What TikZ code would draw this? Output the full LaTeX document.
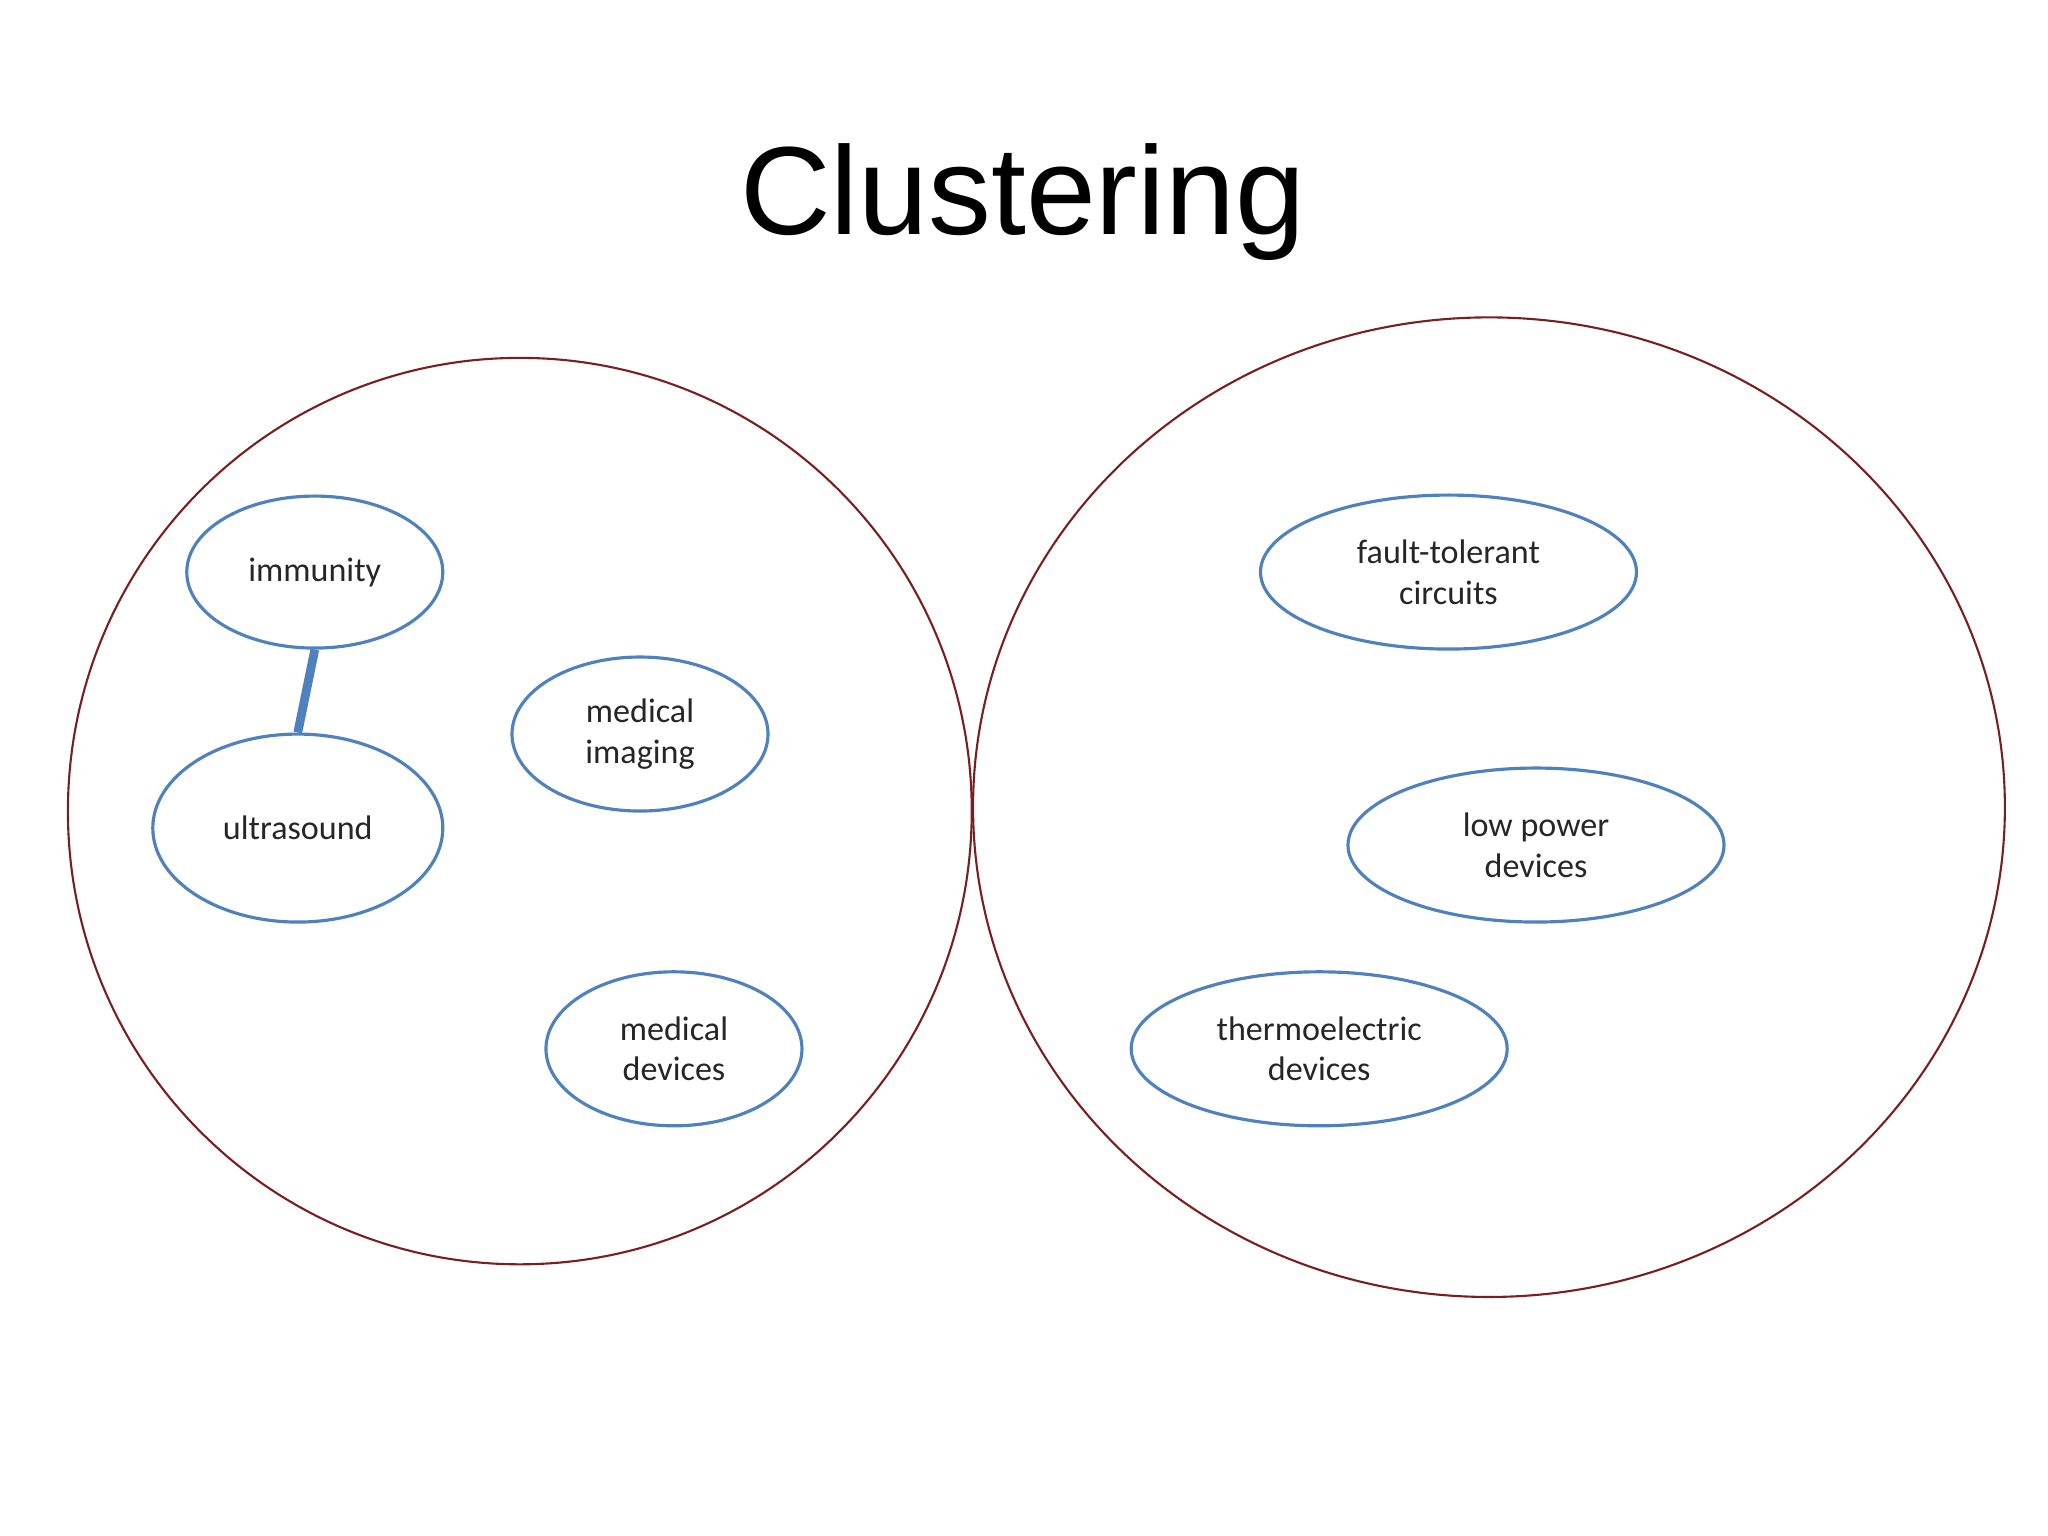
\documentclass[tikz,border=0pt]{standalone}
\usepackage{fontspec}
\setmainfont{Carlito}
\newfontfamily\titlefont{Liberation Sans}
\usetikzlibrary{shapes.geometric}
\definecolor{nodeblue}{HTML}{4F81BD}
\definecolor{bigred}{HTML}{7A1F1F}
\begin{document}
\begin{tikzpicture}[x=0.013061cm,y=-0.013061cm,
  big/.style={draw=bigred,line width=0.6pt},
  small/.style={draw=nodeblue,line width=0.9pt,ellipse},
  lbl/.style={font=\fontsize{9.7}{11.6}\selectfont,align=center,text=black!85}]
\useasboundingbox (0,0) rectangle (1568,1176);
\node[font=\titlefont\fontsize{35.7}{42}\selectfont] (title) at (783,155) {Clustering};
\draw[big] (398,621) ellipse [x radius=346,y radius=347];
\draw[big] (1140,618) ellipse [x radius=395,y radius=375];
\node[small,minimum width=2.56cm,minimum height=1.52cm] (imm) at (241,438) {};
\node[lbl] at (imm) {immunity};
\node[small,minimum width=2.9cm,minimum height=1.88cm] (ult) at (228,634) {};
\node[lbl] at (ult) {ultrasound};
\node[small,minimum width=2.56cm,minimum height=1.54cm] (mi) at (490,562) {};
\node[lbl] at (mi) {medical\\imaging};
\node[small,minimum width=2.56cm,minimum height=1.54cm] (md) at (516,803) {};
\node[lbl] at (md) {medical\\devices};
\node[small,minimum width=3.76cm,minimum height=1.54cm] (ft) at (1109,438) {};
\node[lbl] at (ft) {fault-tolerant\\circuits};
\node[small,minimum width=3.76cm,minimum height=1.54cm] (lp) at (1176,647) {};
\node[lbl] at (lp) {low power\\devices};
\node[small,minimum width=3.76cm,minimum height=1.54cm] (te) at (1010,803) {};
\node[lbl] at (te) {thermoelectric\\devices};
\draw[nodeblue,line width=2.5pt] (imm.south) -- (ult.north);
\end{tikzpicture}
\end{document}
